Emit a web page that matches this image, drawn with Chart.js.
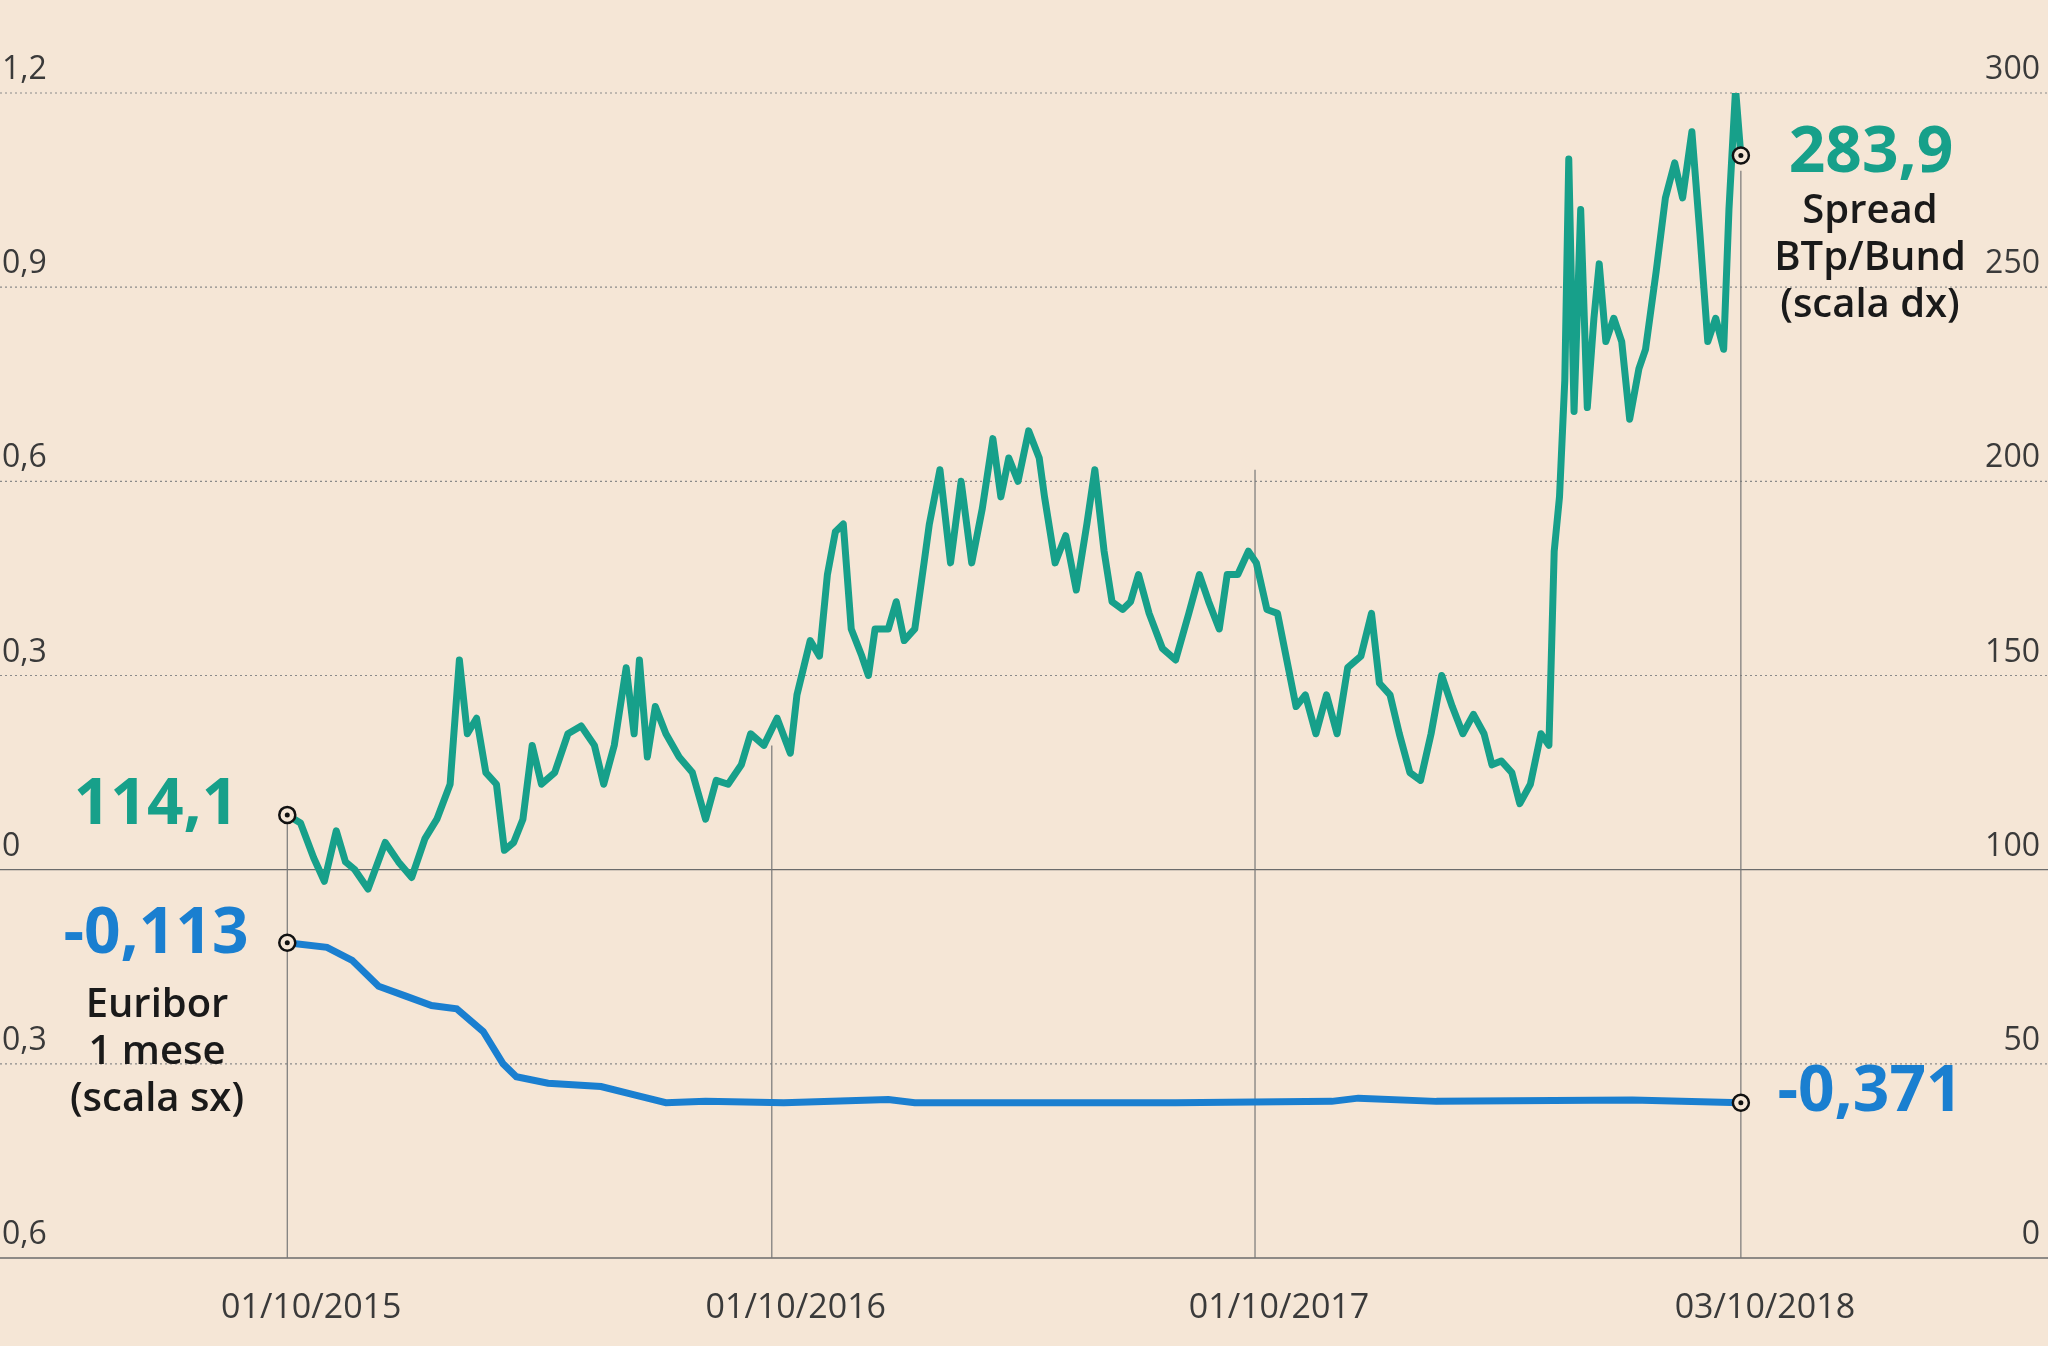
<!DOCTYPE html>
<html><head><meta charset="utf-8">
<script src="https://cdn.jsdelivr.net/npm/chart.js@4"></script>
<style>html,body{margin:0;padding:0;background:#f5e6d6;}canvas{display:block;}</style>
</head><body><canvas id="c" width="2048" height="1346"></canvas>
<script>
// x = days since 01/10/2015
const spreadDays = [0,10,20,28,37,44,51,61,74,84,94,104,113,123,130,136,143,150,158,164,171,178,185,192,202,212,222,232,239,247,256,262,266,272,278,286,296,306,316,324,333,343,350,360,370,380,385,395,402,408,414,420,426,434,439,444,454,460,466,474,481,485,493,501,509,517,525,533,539,545,552,560,568,572,580,588,596,604,610,617,623,631,637,643,651,661,671,681,689,696,704,710,718,726,732,740,748,755,762,769,777,785,793,801,811,819,825,833,840,848,856,864,872,880,888,896,904,910,917,925,931,939,947,953,957,961,965,968,972,977,982,987,991,996,1002,1008,1014,1021,1026,1034,1041,1048,1054,1061,1067,1073,1079,1085,1089,1094,1098];
const spreadValues = [114.1,112,103,97,110,102,100,95,107,102,98,108,113,122,154,135,139,125,122,105,107,113,132,122,125,135,137,132,122,132,152,135,154,129,142,135,129,125,113,123,122,127,135,132,139,130,145,159,155,176,187,189,162,155,150,162,162,169,159,162,179,189,203,179,200,179,193,211,196,206,200,213,206,196,179,186,172,189,203,182,169,167,169,176,166,157,154,166,176,169,162,176,176,182,179,167,166,154,142,145,135,145,135,152,155,166,148,145,135,125,123,135,150,142,135,140,135,127,128,125,117,122,135,132,182,196,226,283,218,270,219,242,256,236,242,236,216,229,234,254,273,282,273,290,264,236,242,234,270,301,283.9];
const euriborDays = [0,30,49,69,89,109,128,148,163,173,197,237,266,286,316,375,454,474,671,789,809,868,1016,1098];
const euriborValues = [-0.113,-0.12,-0.14,-0.18,-0.195,-0.21,-0.215,-0.25,-0.3,-0.32,-0.33,-0.335,-0.35,-0.36,-0.358,-0.36,-0.355,-0.36,-0.36,-0.358,-0.353,-0.358,-0.356,-0.36];
const xTickDays = [0,366,731,1098];
const xTickLabels = ['01/10/2015','01/10/2016','01/10/2017','03/10/2018'];
const leftTicks = [1.2,0.9,0.6,0.3,0,-0.3,-0.6];
const rightTicks = [300,250,200,150,100,50,0];
const dropLineTops = [116,132,203,280];

const GREEN='#17a08a', BLUE='#1a7fd0', FONT='"Open Sans", sans-serif';
const fmt = v => String(Math.abs(v)).replace('.',',');

const deco = {
  id:'deco',
  beforeDatasetsDraw(ch){
    const c=ch.ctx, a=ch.chartArea, yl=ch.scales.yL, yr=ch.scales.yR, x=ch.scales.x;
    c.save();
    leftTicks.forEach(v=>{
      const y=yl.getPixelForValue(v);
      c.beginPath();
      if(v===0||v===-0.6){c.setLineDash([]);c.strokeStyle='#6b6b6b';c.lineWidth=1.3;}
      else{c.setLineDash([2,3]);c.strokeStyle='#8a8a8a';c.lineWidth=1.2;}
      c.moveTo(0,y);c.lineTo(ch.width,y);c.stroke();
    });
    c.setLineDash([]);c.strokeStyle='#777';c.lineWidth=1.2;
    xTickDays.forEach((d,i)=>{
      const px=x.getPixelForValue(d);
      c.beginPath();c.moveTo(px,a.bottom);c.lineTo(px,yr.getPixelForValue(dropLineTops[i]));c.stroke();
    });
    c.fillStyle='#3a3a3a';c.font='32px '+FONT;c.textBaseline='alphabetic';
    leftTicks.forEach(v=>{c.textAlign='left';c.fillText(fmt(v),2,yl.getPixelForValue(v)-14);});
    rightTicks.forEach(v=>{c.textAlign='right';c.fillText(String(v),2040,yr.getPixelForValue(v)-14);});
    c.textAlign='center';c.font='34px '+FONT;
    xTickDays.forEach((d,i)=>c.fillText(xTickLabels[i],x.getPixelForValue(d)+24,1318));
    c.restore();
  },
  afterDatasetsDraw(ch){
    const c=ch.ctx, yl=ch.scales.yL, yr=ch.scales.yR, x=ch.scales.x;
    c.save();
    const mark=(px,py)=>{c.beginPath();c.arc(px,py,8,0,7);c.fillStyle='#f5e6d6';c.fill();c.lineWidth=2.5;c.strokeStyle='#111';c.stroke();
      c.beginPath();c.arc(px,py,2.5,0,7);c.fillStyle='#111';c.fill();};
    const n=spreadDays.length-1, m=euriborDays.length-1;
    mark(x.getPixelForValue(spreadDays[0]),yr.getPixelForValue(spreadValues[0]));
    mark(x.getPixelForValue(spreadDays[n]),yr.getPixelForValue(spreadValues[n]));
    mark(x.getPixelForValue(euriborDays[0]),yl.getPixelForValue(euriborValues[0]));
    mark(x.getPixelForValue(euriborDays[m]),yl.getPixelForValue(euriborValues[m]));
    c.textAlign='center';c.textBaseline='middle';
    c.font='bold 64px '+FONT;
    c.fillStyle=GREEN;c.fillText('114,1',156,806);c.fillText('283,9',1871,154);
    c.fillStyle=BLUE;c.fillText('-0,113',156,935);c.fillText('-0,371',1870,1093);
    c.fillStyle='#1a1a1a';c.font='600 40px '+FONT;
    c.fillText('Euribor',157,1006);c.fillText('1 mese',157,1053);c.fillText('(scala sx)',157,1100);
    c.fillText('Spread',1870,212);c.fillText('BTp/Bund',1870,259);c.fillText('(scala dx)',1870,306);
    c.restore();
  }
};

new Chart(document.getElementById('c'),{
  type:'line',
  data:{datasets:[
    {label:'Spread BTp/Bund',data:spreadDays.map((d,i)=>({x:d,y:spreadValues[i]})),yAxisID:'yR',borderColor:GREEN,borderWidth:7,pointRadius:0,tension:0,borderJoinStyle:'round'},
    {label:'Euribor 1 mese',data:euriborDays.map((d,i)=>({x:d,y:euriborValues[i]})),yAxisID:'yL',borderColor:BLUE,borderWidth:7,pointRadius:0,tension:0}
  ]},
  options:{
    responsive:false,animation:false,devicePixelRatio:1,
    layout:{padding:{top:93,bottom:88,left:0,right:0}},
    plugins:{legend:{display:false},tooltip:{enabled:false}},
    scales:{
      x:{type:'linear',min:-217,max:1330,display:false},
      yL:{type:'linear',position:'left',min:-0.6,max:1.2,display:false},
      yR:{type:'linear',position:'right',min:0,max:300,display:false}
    }
  },
  plugins:[deco]
});
</script></body></html>
